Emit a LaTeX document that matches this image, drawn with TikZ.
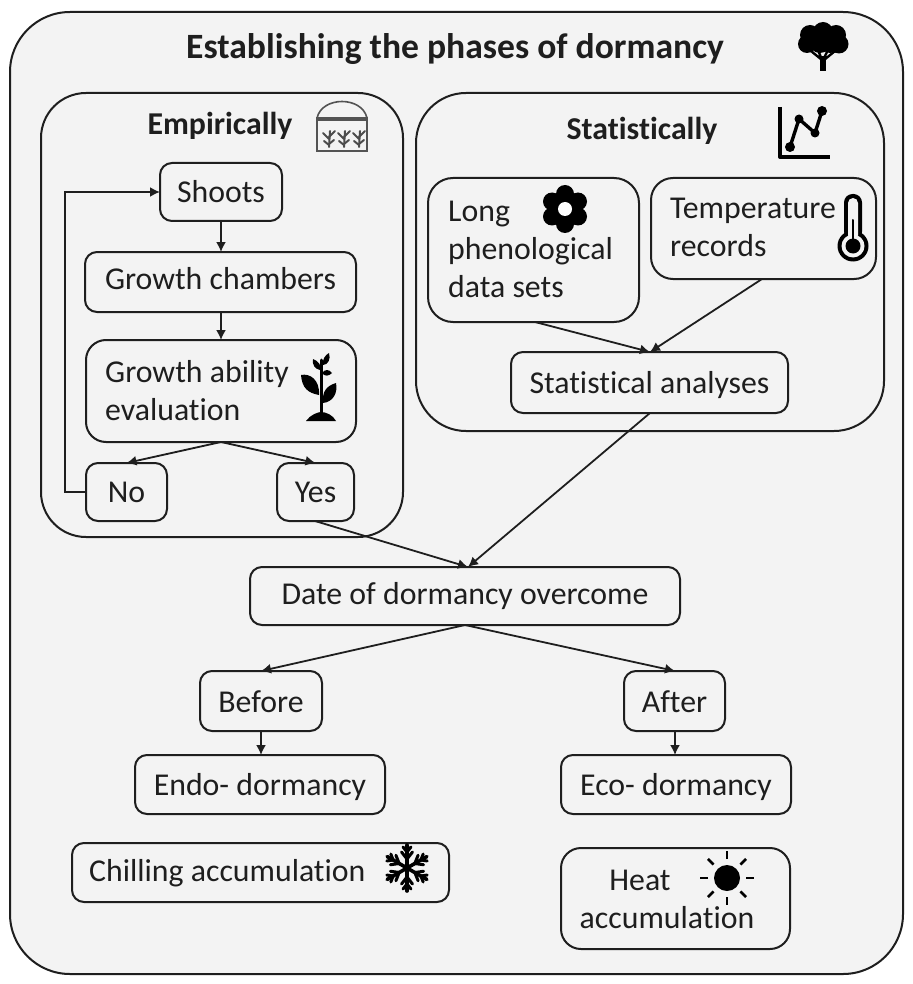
\documentclass[tikz,border=0pt]{standalone}
\usepackage{fontspec}
\setmainfont[Ligatures=NoCommon]{Carlito}
\usetikzlibrary{arrows.meta}
\definecolor{ink}{HTML}{1E1E1E}
\definecolor{paper}{HTML}{F3F3F3}
\tikzset{
 x=1pt,y=-1pt,
 every node/.style={text=ink,font=\fontsize{31.8}{38}\selectfont},
 panel/.style={draw=ink,line width=2pt,anchor=north west,inner sep=0pt,outer sep=0pt},
 boxn/.style={panel,rounded corners=12pt,align=center},
 lab/.style={align=left,inner sep=0pt,anchor=west},
 head/.style={inner sep=0pt,font=\fontsize{31.8}{38}\selectfont\bfseries},
 conn/.style={draw=ink,line width=1.8pt,-{Latex[length=10pt,width=10pt]}},
 icon/.style={fill=black,draw=none},
 iconl/.style={draw=black,line cap=round,line join=round},
}
\newcommand{\bx}[7][]{\node[boxn,#1,minimum width=#4-#2,minimum height=#5-#3] (#6) at (#2,#3) {#7};}
\newcommand{\rs}[2]{\raisebox{#1}[\height][\depth]{#2}}
\begin{document}
\begin{tikzpicture}
\useasboundingbox (0,0) rectangle (912,984);
\fill[white] (0,0) rectangle (912,984);
% panels
\node[panel,rounded corners=60pt,fill=paper,minimum width=893,minimum height=962] (outer) at (10,12) {};
\node[panel,rounded corners=45pt,minimum width=362,minimum height=444] (emp) at (41,93) {};
\node[panel,rounded corners=50pt,minimum width=468,minimum height=338] (stat) at (416,93) {};
% headings
\node[head,font=\fontsize{35.6}{40}\selectfont\bfseries] (title) at (455,49) {Establishing the phases of dormancy};
\node[head] (empt) at (220,126) {Empirically};
\node[head] (statt) at (642,131) {Statistically};
% boxes
\bx{160}{163}{282}{221}{shoots}{Shoots}
\bx{85}{252}{356}{312}{chambers}{\rs{3pt}{Growth chambers}}
\bx[rounded corners=20pt]{86}{340}{356}{442}{ability}{}
\node[lab] (abilityt) at (105,391) {Growth ability\\evaluation};
\bx{86}{463}{167}{521}{no}{No}
\bx{277}{463}{354}{521}{yes}{Yes}
\bx[rounded corners=25pt]{428}{178}{639}{322}{long}{}
\node[lab] (longt) at (448,249) {Long\\phenological\\data sets};
\bx[rounded corners=22pt]{651}{178}{876}{279}{temp}{}
\node[lab] (tempt) at (670,227) {Temperature\\records};
\bx{511}{352}{788}{413}{analyses}{\rs{-3pt}{Statistical analyses}}
\bx{250}{567}{680}{625}{date}{Date of dormancy overcome}
\bx{200}{671}{322}{731}{before}{\rs{-1pt}{Before}}
\bx{624}{671}{725}{731}{after}{\rs{-1pt}{After}}
\bx{135}{755}{385}{814}{endo}{\rs{-3pt}{Endo- dormancy}}
\bx{561}{755}{791}{814}{eco}{\rs{-3pt}{Eco- dormancy}}
\bx{72}{843}{449}{902}{chill}{}
\node[lab] (chillt) at (89,873) {Chilling accumulation};
\bx[rounded corners=20pt]{561}{848}{790}{949}{heat}{}
\node[align=center,inner sep=0pt] (heatt) at (667,899) {\hspace*{-54pt}Heat\\accumulation};
% connectors
\draw[conn] (shoots.south) -- (chambers.north-|shoots.south);
\draw[conn] (chambers.south-|shoots.south) -- (ability.north-|shoots.south);
\draw[conn] (ability.south-|shoots.south) -- (no.north);
\draw[conn] (ability.south-|shoots.south) -- (yes.north);
\coordinate (loopa) at (65,492);
\coordinate (loopb) at (65,192);
\draw[conn] (no.west) -- (loopa) -- (loopb) -- (shoots.west);
\coordinate (longout) at (535,322);
\coordinate (tempout) at (762,279);
\coordinate (anain) at (650,352);
\draw[conn] (longout) -- (anain);
\draw[conn] (tempout) -- (anain);
\coordinate (anaout) at (650,413);
\coordinate (datein) at (468,567);
\coordinate (yesout) at (315,521);
\draw[conn] (anaout) -- (datein);
\draw[conn] (yesout) -- (datein);
\coordinate (dateout) at (465,625);
\draw[conn] (dateout) -- (before.north);
\coordinate (afterin) at (675,671);
\draw[conn] (dateout) -- (afterin);
\draw[conn] (before.south) -- (endo.north-|before.south);
\draw[conn] (afterin|-after.south) -- (afterin|-eco.north);
% tree
\fill[icon] (810,35) circle (10) (823,32) circle (10) (836,35) circle (10) (807,44) circle (9) (839,44) circle (9.5) (820,42) circle (11) (830,43) circle (10);
\fill[icon] (812,46) rectangle (836,50);
\fill[icon] (820,56) -- (820,71) -- (825.5,71) -- (825.5,56) -- cycle;
\draw[iconl,line width=2.4pt] (822,60) -- (811,51) (822,60) -- (818,50) (823,60) -- (828,50) (824,60) -- (835,51);
% greenhouse
\draw[line width=1.6pt,draw=gray!65!black] (317,118) rectangle (367,151);
\draw[line width=1.6pt,draw=gray!65!black] (317,118) .. controls (322,96) and (362,96) .. (367,118);
\draw[line width=1.6pt,draw=gray!65!black] (317,120) -- (367,120);
\foreach \px in {329,344,359}{
 \draw[line width=2pt,draw=black!70,line cap=round] (\px,147) -- (\px+1,131);
 \draw[line width=2pt,draw=black!70,line cap=round] (\px-6,133) -- (\px,139) (\px+6,131) -- (\px,137) (\px-5,141) -- (\px,145) (\px+5,140) -- (\px,144);
}
% chart
\draw[iconl,line width=3.4pt,line cap=butt] (780,107) -- (780,157) -- (830,157);
\draw[iconl,line width=3.4pt] (790,147) -- (799,119) -- (815,133) -- (822,111);
\fill[icon] (790,147) circle (5) (799,119) circle (4.5) (815,133) circle (4.5) (822,111) circle (5);
% flower
\foreach \a in {30,90,...,330} \fill[icon] (565,209) ++(\a:15) circle (9);
\fill[icon] (565,209) circle (11);
\fill[white] (565,209) circle (7);
% thermometer
\fill[icon,rounded corners=8.5pt] (844,194) rectangle (862,240);
\fill[icon] (853,246) circle (15.5);
\fill[paper,rounded corners=5pt] (848,198) rectangle (858,240);
\fill[paper] (853,246) circle (11.5);
\draw[iconl,line width=2pt] (853,220) -- (853,240);
\fill[icon] (853,246) circle (7.5);
% plant
\draw[iconl,line width=3pt] (321,360) -- (321,415);
\fill[icon] (306,421) .. controls (310,415) and (318,412) .. (321,412) .. controls (326,412) and (333,415) .. (336,421) -- cycle;
\fill[icon] (301,375) .. controls (310,373) and (320,380) .. (319,395) .. controls (308,393) and (302,388) .. (301,375) -- cycle;
\fill[icon] (336,383) .. controls (338,393) and (333,402) .. (323,403) .. controls (322,392) and (326,386) .. (336,383) -- cycle;
\fill[icon] (313,359) .. controls (318,361) and (322,365) .. (320,370) .. controls (315,369) and (312,365) .. (313,359) -- cycle;
\fill[icon] (329,353) .. controls (331,359) and (328,365) .. (323,365) .. controls (322,360) and (325,355) .. (329,353) -- cycle;
\fill[icon] (332,373) .. controls (329,376) and (325,377) .. (322,373) .. controls (325,369) and (329,369) .. (332,373) -- cycle;
% snowflake
\foreach \a in {30,90,...,330}{
 \begin{scope}[shift={(407,868)},rotate=\a]
 \draw[iconl,line width=3.6pt] (0,0) -- (23,0);
 \draw[iconl,line width=3pt] (9,0) -- (16,5.5) (9,0) -- (16,-5.5) (16,0) -- (21,4) (16,0) -- (21,-4);
 \end{scope}
}
% sun
\fill[icon] (727,878) circle (13);
\foreach \a in {0,45,...,315}{
 \draw[iconl,line width=2.6pt,line cap=butt] (727,878) ++(\a:19) -- ++(\a:8);
}
\end{tikzpicture}
\end{document}
